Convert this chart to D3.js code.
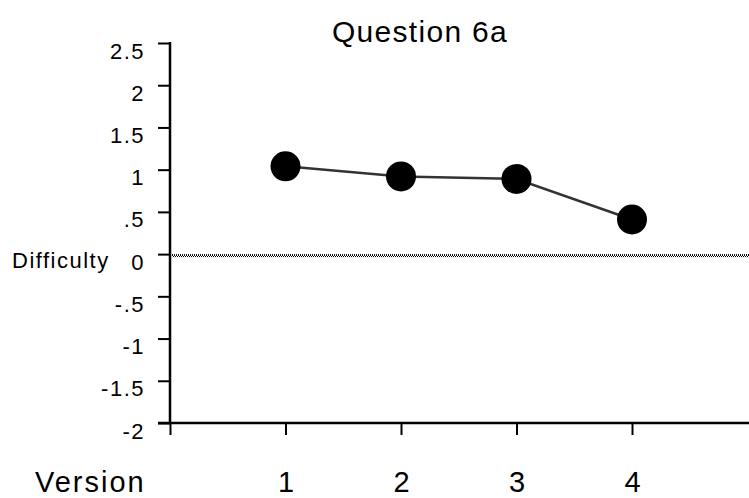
<!DOCTYPE html>
<html>
<head>
<meta charset="utf-8">
<script src="https://cdn.jsdelivr.net/npm/d3@7"></script>
<style>
  html, body { margin: 0; padding: 0; background: #fff; }
  svg { display: block; }
  text { font-family: "Liberation Sans", Arial, Helvetica, sans-serif; fill: #000; }
</style>
</head>
<body>
<svg id="chart" width="749" height="498"></svg>
<script>
const title = "Question 6a";
const versions = [1, 2, 3, 4];
const difficulty = [1.04, 0.92, 0.89, 0.41];
const yTickValues = [2.5, 2, 1.5, 1, 0.5, 0, -0.5, -1, -1.5, -2];
const yTickLabels = ["2.5", "2", "1.5", "1", ".5", "0", "-.5", "-1", "-1.5", "-2"];
const xTickValues = [0, 1, 2, 3, 4];
const xTickLabels = ["", "1", "2", "3", "4"];
const yAxisTitle = "Difficulty";
const xAxisTitle = "Version";

const svg = d3.select("#chart");
const x = d3.scaleLinear().domain([0, 5]).range([170, 747.5]);
const y = d3.scaleLinear().domain([-2, 2.5]).range([423, 43]);

// dithered pattern for the zero line
const defs = svg.append("defs");
const pat = defs.append("pattern").attr("id", "dither")
  .attr("patternUnits", "userSpaceOnUse").attr("width", 4).attr("height", 3);
pat.append("rect").attr("x", 0).attr("y", 0).attr("width", 1).attr("height", 1).attr("fill", "#000");
pat.append("rect").attr("x", 2).attr("y", 0).attr("width", 1).attr("height", 1).attr("fill", "#000");
pat.append("rect").attr("x", 1).attr("y", 1).attr("width", 1).attr("height", 1).attr("fill", "#000");
pat.append("rect").attr("x", 3).attr("y", 1).attr("width", 1).attr("height", 1).attr("fill", "#000");
pat.append("rect").attr("x", 0).attr("y", 2).attr("width", 1).attr("height", 1).attr("fill", "#000");
pat.append("rect").attr("x", 2).attr("y", 2).attr("width", 1).attr("height", 1).attr("fill", "#000");

// zero reference line
svg.append("rect")
  .attr("x", x(0) + 2).attr("y", y(0))
  .attr("width", 749 - x(0) - 2).attr("height", 3)
  .attr("fill", "url(#dither)");

// Y axis
const yAxis = d3.axisLeft(y).tickValues(yTickValues)
  .tickFormat((d, i) => yTickLabels[i]).tickSize(12).tickPadding(13);
const gy = svg.append("g").attr("transform", `translate(${x(0)},0)`).call(yAxis);
gy.select(".domain").remove();
gy.selectAll(".tick line").attr("stroke", "#000").attr("stroke-width", 2);
gy.selectAll(".tick text").attr("font-size", 22).attr("dy", 0).attr("y", 15)
  .style("letter-spacing", "1.5px").attr("fill", "#000");
svg.append("line").attr("x1", x(0)).attr("x2", x(0))
  .attr("y1", y(2.5) - 1).attr("y2", y(-2))
  .attr("stroke", "#000").attr("stroke-width", 2.5);

// X axis
const xAxis = d3.axisBottom(x).tickValues(xTickValues)
  .tickFormat((d, i) => xTickLabels[i]).tickSize(12);
const gx = svg.append("g").attr("transform", `translate(0,${y(-2)})`).call(xAxis);
gx.select(".domain").remove();
gx.selectAll(".tick line").attr("stroke", "#000").attr("stroke-width", 2);
gx.selectAll(".tick text").attr("font-size", 29).attr("y", 69).attr("dy", 0).attr("fill", "#000");
svg.append("line").attr("x1", x(0) - 12).attr("x2", 749)
  .attr("y1", y(-2)).attr("y2", y(-2))
  .attr("stroke", "#000").attr("stroke-width", 2.5);

// titles
svg.append("text").attr("x", 420).attr("y", 42).attr("text-anchor", "middle")
  .attr("font-size", 30).style("letter-spacing", "1.3px").text(title);
svg.append("text").attr("x", 12).attr("y", 268)
  .attr("font-size", 22).style("letter-spacing", "1.5px").text(yAxisTitle);
svg.append("text").attr("x", 35).attr("y", 492)
  .attr("font-size", 29).style("letter-spacing", "2px").text(xAxisTitle);

// data line & markers
const pts = versions.map((v, i) => [v, difficulty[i]]);
svg.append("path").datum(pts)
  .attr("d", d3.line().x(d => x(d[0])).y(d => y(d[1])))
  .attr("fill", "none").attr("stroke", "#333").attr("stroke-width", 2.5);
svg.selectAll("circle.pt").data(pts).enter().append("circle")
  .attr("class", "pt")
  .attr("cx", d => x(d[0])).attr("cy", d => y(d[1])).attr("r", 15)
  .attr("fill", "#000");
</script>
</body>
</html>
